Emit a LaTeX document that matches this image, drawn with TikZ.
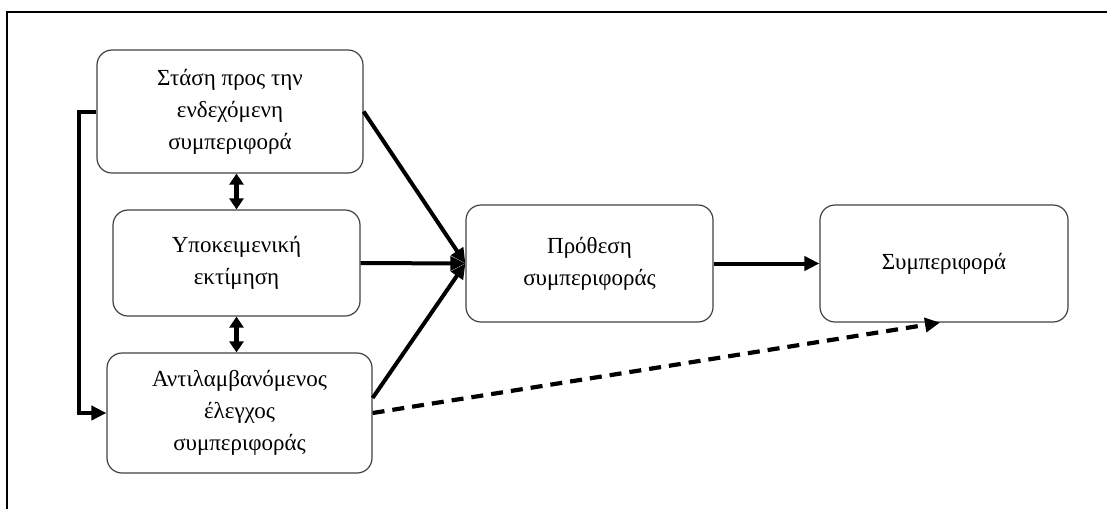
\documentclass[tikz,border=0pt]{standalone}
\usepackage{fontspec}
\setmainfont{Liberation Serif}
\usetikzlibrary{arrows.meta,calc}
\tikzset{
  box/.style={draw=black!75, line width=1.2pt, rounded corners=15pt, align=center, inner sep=0pt,
    font=\fontsize{23}{32}\selectfont},
  arr/.style={line width=4pt, -{Triangle[length=15pt,width=14pt]}},
  dbl/.style={line width=4.5pt, {Triangle[length=11pt,width=14pt]}-{Triangle[length=11pt,width=14pt]}},
  dsh/.style={line width=4.2pt, dash pattern=on 12pt off 8pt, -{Triangle[length=15pt,width=14pt]}},
  frame/.style={line width=1.5pt}
}
\begin{document}
\begin{tikzpicture}[x=1pt,y=-1pt]
\useasboundingbox (0,0) rectangle (1107,509);
\draw[frame] (7,509) -- (7,12) -- (1107,12);
\node[box, minimum width=266pt, minimum height=123pt] (A) at (230,111.5) {Στάση προς την\\ενδεχόμενη\\συμπεριφορά};
\node[box, minimum width=247pt, minimum height=106pt] (B) at (236.5,263) {Υποκειμενική\\εκτίμηση};
\node[box, minimum width=265pt, minimum height=120pt] (C) at (239.5,413) {Αντιλαμβανόμενος\\έλεγχος\\συμπεριφοράς};
\node[box, minimum width=247pt, minimum height=117pt] (D) at (589.5,263.5) {Πρόθεση\\συμπεριφοράς};
\node[box, minimum width=248pt, minimum height=117pt] (E) at (944,263.5) {Συμπεριφορά};
\draw[dbl] (A.south -| B.north) -- (B.north);
\draw[dbl] (B.south) -- (C.north -| B.south);
\draw[arr] (A.west) -- ++(-17,0) |- (C.west);
\draw[arr] (A.east) -- (D.west);
\draw[arr] (B.east) -- (D.west);
\draw[arr] ($(C.east)+(0,-15)$) -- (D.west);
\draw[arr] (D.east) -- (E.west);
\draw[dsh] (C.east) -- ($(E.south)+(-4,0)$);
\end{tikzpicture}
\end{document}
